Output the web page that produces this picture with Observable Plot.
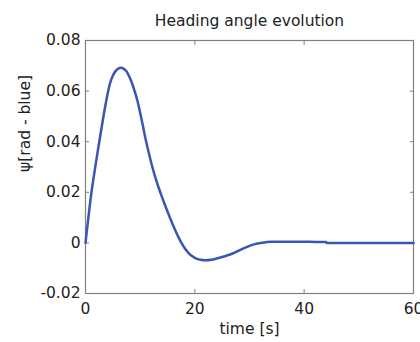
<!DOCTYPE html>
<html>
<head>
<meta charset="utf-8">
<script src="https://cdn.jsdelivr.net/npm/d3@7"></script>
<script src="https://cdn.jsdelivr.net/npm/@observablehq/plot@0.6"></script>
<style>
  html, body { margin: 0; padding: 0; background: #fff; }
</style>
</head>
<body>
<div id="chart"></div>
<script>
const title = "Heading angle evolution";
const xLabel = "time [s]";
const yLabel = "ψ[rad - blue]";
const xTicks = [0, 20, 40, 60];
const yTicks = [-0.02, 0, 0.02, 0.04, 0.06, 0.08];
const yTickLabels = ["-0.02", "0", "0.02", "0.04", "0.06", "0.08"];

const time = [0, 0.5, 1, 1.5, 2, 2.5, 3, 3.5, 4, 4.5, 5, 5.5, 6, 6.5, 7, 7.5, 8, 8.5, 9, 9.5, 10, 10.5, 11, 11.5, 12, 12.5, 13, 13.5, 14, 14.5, 15, 15.5, 16, 16.5, 17, 17.5, 18, 18.5, 19, 19.5, 20, 21, 22, 23, 24, 25, 26, 27, 28, 29, 30, 31, 32, 33, 34, 36, 38, 40, 42, 44, 44.1, 50, 55, 60];
const psi = [0, 0.0095, 0.0185, 0.026, 0.033, 0.0397, 0.0463, 0.0527, 0.0585, 0.0632, 0.0661, 0.0679, 0.0689, 0.0692, 0.0688, 0.0678, 0.0658, 0.0632, 0.0599, 0.0562, 0.0514, 0.0463, 0.041, 0.0363, 0.0319, 0.0279, 0.0243, 0.0211, 0.0181, 0.0152, 0.0124, 0.0097, 0.0071, 0.0046, 0.0023, 0.0002, -0.0016, -0.0031, -0.0043, -0.0052, -0.0059, -0.0067, -0.0069, -0.0067, -0.0062, -0.0056, -0.0049, -0.0041, -0.0031, -0.0021, -0.0012, -0.0005, 0, 0.0003, 0.0005, 0.0005, 0.0005, 0.0005, 0.0004, 0.0004, 0, 0, 0, 0];

const data = time.map((t, i) => ({t, v: psi[i]}));
const font = "DejaVu Sans";
const fs = 15.5;
const axisColor = "#808080";

const chart = Plot.plot({
  width: 420,
  height: 342,
  marginLeft: 85,
  marginRight: 7,
  marginTop: 40,
  marginBottom: 49,
  style: {fontFamily: font, fontSize: fs + "px", color: "#222", background: "#fff"},
  x: {domain: [0, 60]},
  y: {domain: [-0.02, 0.08]},
  marks: [
    Plot.frame({stroke: axisColor, strokeWidth: 1.2}),
    Plot.axisX(xTicks, {anchor: "bottom", tickSize: -4, stroke: axisColor, tickFormat: () => "", label: null}),
    Plot.axisX(xTicks, {anchor: "top", tickSize: -4, stroke: axisColor, tickFormat: () => "", label: null}),
    Plot.axisY(yTicks, {anchor: "left", tickSize: -4, stroke: axisColor, tickFormat: () => "", label: null}),
    Plot.axisY(yTicks, {anchor: "right", tickSize: -4, stroke: axisColor, tickFormat: () => "", label: null}),
    Plot.axisX(xTicks, {anchor: "bottom", tickSize: 0, tickPadding: 9, label: null, fontSize: fs, fill: "#222"}),
    Plot.axisY(yTicks, {anchor: "left", tickSize: 0, tickPadding: 5, label: null, fontSize: fs, fill: "#222",
      tickFormat: (d) => yTickLabels[yTicks.indexOf(d)]}),
    Plot.line(data, {x: "t", y: "v", stroke: "#3c54b4", strokeWidth: 2.5, curve: "monotone-x"}),
    Plot.text([title], {frameAnchor: "top", dy: -19, lineAnchor: "middle", fontSize: fs, fill: "#222"}),
    Plot.text([xLabel], {frameAnchor: "bottom", dy: 36, lineAnchor: "middle", fontSize: fs, fill: "#222"}),
    Plot.text([yLabel], {frameAnchor: "left", dx: -60, dy: 5, rotate: -90, lineAnchor: "middle", fontSize: fs, fill: "#222"})
  ]
});
document.getElementById("chart").appendChild(chart);
</script>
</body>
</html>
